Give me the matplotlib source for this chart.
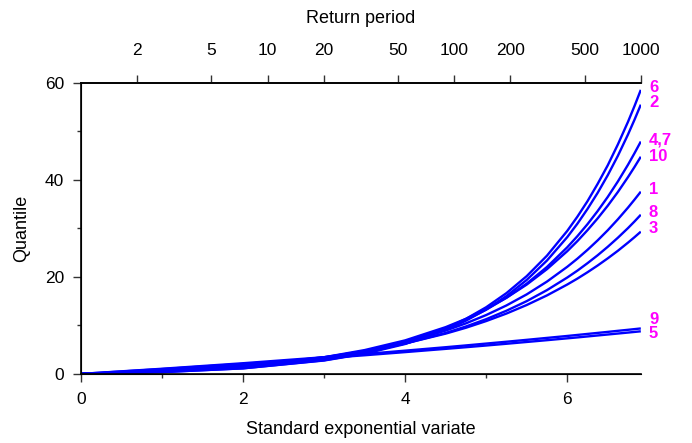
import numpy as np
import matplotlib
matplotlib.use("Agg")
import matplotlib.pyplot as plt
from matplotlib.ticker import MultipleLocator

plt.rcParams['font.family'] = ['Liberation Sans', 'DejaVu Sans']

# standard exponential variate where the quantiles were read
x = [0, 1, 2, 3, 3.5, 4, 4.5, 4.75, 5, 5.25, 5.5, 5.75, 6, 6.125, 6.25,
     6.375, 6.5, 6.625, 6.75, 6.83, 6.908]

# quantiles, one list per site
q6 = [0, 0.37, 1.15, 2.81, 4.24, 6.32, 9.34, 11.34, 13.74, 16.65, 20.15, 24.37,
      29.47, 32.40, 35.6, 39.16, 43.0, 47.30, 51.97, 55.21, 58.55]
q2 = [0, 0.37, 1.14, 2.76, 4.15, 6.16, 9.07, 10.97, 13.27, 16.04, 19.37, 23.37,
      28.19, 30.95, 34.0, 37.31, 40.96, 44.96, 49.36, 52.39, 55.5]
q4_7 = [0, 0.47, 1.39, 3.17, 4.60, 6.60, 9.37, 11.15, 13.24, 15.71, 18.61, 22.04,
        26.09, 28.38, 30.86, 33.56, 36.48, 39.67, 43.12, 45.49, 47.9]
q10 = [0, 0.55, 1.56, 3.43, 4.91, 6.91, 9.64, 11.35, 13.36, 15.69, 18.41, 21.59,
       25.29, 27.37, 29.63, 32.05, 34.67, 37.50, 40.57, 42.65, 44.77]
q1 = [0, 0.57, 1.58, 3.36, 4.72, 6.53, 8.93, 10.42, 12.13, 14.11, 16.39, 19.03,
      22.07, 23.75, 25.57, 27.52, 29.61, 31.87, 34.28, 35.92, 37.57]
q8 = [0, 0.59, 1.60, 3.32, 4.60, 6.26, 8.44, 9.77, 11.28, 13.02, 15.00, 17.27,
      19.86, 21.28, 22.82, 24.45, 26.20, 28.07, 30.06, 31.42, 32.81]
q3 = [0, 0.65, 1.71, 3.44, 4.68, 6.27, 8.30, 9.51, 10.89, 12.44, 14.20, 16.18,
      18.42, 19.64, 20.95, 22.34, 23.82, 25.38, 27.06, 28.18, 29.32]
q9 = [0, 1.06, 2.20, 3.44, 4.10, 4.79, 5.50, 5.87, 6.25, 6.63, 7.02, 7.42,
      7.82, 8.03, 8.24, 8.45, 8.66, 8.88, 9.09, 9.23, 9.37]
q5 = [0, 0.99, 2.06, 3.23, 3.84, 4.49, 5.16, 5.50, 5.85, 6.21, 6.58, 6.95,
      7.33, 7.52, 7.72, 7.92, 8.12, 8.32, 8.52, 8.65, 8.78]

curves = [q6, q2, q4_7, q10, q1, q8, q3, q9, q5]
labels = ["6", "2", "4,7", "10", "1", "8", "3", "9", "5"]
label_y = [59.0, 55.9, 48.2, 44.9, 38.1, 33.2, 29.9, 11.3, 8.3]

return_periods = [2, 5, 10, 20, 50, 100, 200, 500, 1000]

fig = plt.figure(figsize=(6.92, 4.43), dpi=100)
ax = fig.add_axes([0.117, 0.156, 0.809, 0.657])

for q in curves:
    ax.plot(x, q, color="#0000ff", lw=1.7, solid_capstyle="butt")

xmax = np.log(1000)
for lab, ly in zip(labels, label_y):
    ax.text(xmax + 0.1, ly, lab, color="#ff00ff", fontweight="bold",
            fontsize=12, ha="left", va="center", clip_on=False)

ax.set_xlim(0, xmax)
ax.set_ylim(0, 60)
ax.xaxis.set_major_locator(MultipleLocator(2))
ax.xaxis.set_minor_locator(MultipleLocator(1))
ax.yaxis.set_major_locator(MultipleLocator(20))
ax.yaxis.set_minor_locator(MultipleLocator(10))
ax.tick_params(which="major", direction="out", length=6, width=1, labelsize=12.5, color="#333333")
ax.tick_params(which="minor", direction="out", length=3, width=1, color="#333333")
ax.tick_params(axis="x", which="major", pad=7)
ax.tick_params(axis="y", which="major", pad=6)
ax.spines["right"].set_visible(False)
for s in ["left", "bottom", "top"]:
    ax.spines[s].set_linewidth(1.2)
ax.set_xlabel("Standard exponential variate", fontsize=13, labelpad=10)
ax.set_ylabel("Quantile", fontsize=13, labelpad=11)

# return period scale on top: T sits at ln(T)
top = ax.twiny()
top.set_xlim(ax.get_xlim())
top.set_xticks(np.log(return_periods))
top.set_xticklabels([str(t) for t in return_periods])
top.tick_params(direction="out", length=6, width=1, labelsize=12.5, color="#333333", pad=12)
top.spines["right"].set_visible(False)
top.spines["top"].set_linewidth(1.2)
top.set_xlabel("Return period", fontsize=13, labelpad=14)

fig.savefig("out.png", dpi=100)
